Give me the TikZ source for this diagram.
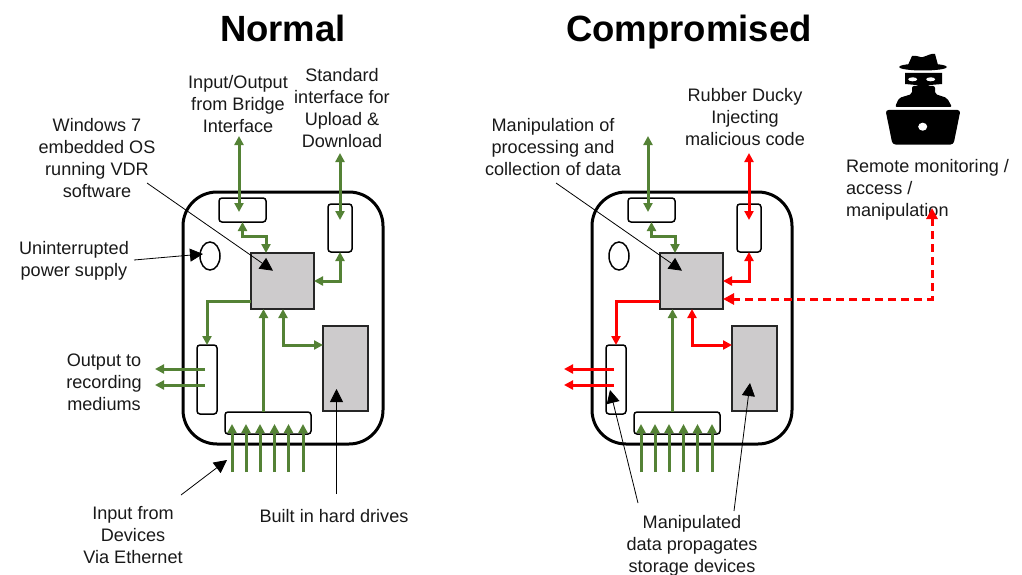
\documentclass[tikz,border=0pt]{standalone}
\usepackage{fontspec}
\setmainfont{Liberation Sans}
\usetikzlibrary{calc,arrows.meta,shapes.geometric}
\definecolor{vgreen}{HTML}{548235}
\definecolor{vred}{HTML}{FF0000}
\definecolor{vgray}{HTML}{CDCBCC}
\tikzset{
  lbl/.style={inner sep=0pt,outer sep=0pt,align=center,text=black!90,font=\fontsize{18.1}{22}\selectfont},
  heading/.style={inner sep=0pt,outer sep=0pt,anchor=base,font=\fontsize{36.5}{40}\selectfont\bfseries},
  part/.style={draw=black,line width=1.5pt,rounded corners=3pt,inner sep=0pt,outer sep=0pt},
  store/.style={draw=black!85,fill=vgray,line width=1.5pt,inner sep=0pt,outer sep=0pt},
  link/.style={draw=#1,line width=3pt,-{Stealth[length=9pt,width=9pt,inset=0pt]}},
  twoway/.style={draw=#1,line width=3pt,{Stealth[length=9pt,width=9pt,inset=0pt]}-{Stealth[length=9pt,width=9pt,inset=0pt]}},
  callout/.style={draw=black,line width=0.8pt,-{Stealth[length=13pt,width=13pt,inset=0pt]}},
  remote/.style={draw=vred,line width=3pt,dash pattern=on 8pt off 5pt,{Stealth[length=11pt,width=11pt,inset=0pt]}-{Stealth[length=11pt,width=11pt,inset=0pt]}}
}
\begin{document}
\begin{tikzpicture}[x=1pt,y=-1pt]
\useasboundingbox (0,0) rectangle (1022,575);
\node[heading] (titlen) at (283,42) {Normal};
\node[heading] (titlec) at (689,42) {Compromised};
\foreach \p/\dx/\col in {n/0/vgreen,c/409/vred}{
  \node[draw=black,line width=3pt,rounded corners=34pt,inner sep=0pt,outer sep=0pt,minimum width=200pt,minimum height=252pt] (shell\p) at (283+\dx,318) {};
  \node[part,minimum width=47pt,minimum height=24pt] (topbox\p) at (242.5+\dx,210) {};
  \node[part,minimum width=24pt,minimum height=48pt] (usbbox\p) at (340+\dx,228) {};
  \node[part,minimum width=20pt,minimum height=69pt] (outbox\p) at (207+\dx,379.5) {};
  \node[part,minimum width=86pt,minimum height=22pt] (inbox\p) at (268+\dx,423) {};
  \node[draw=black,line width=1.5pt,ellipse,inner sep=0pt,outer sep=0pt,minimum width=20pt,minimum height=28pt] (ups\p) at (210+\dx,256) {};
  \node[store,minimum width=63pt,minimum height=56pt] (cpu\p) at (282.5+\dx,281) {};
  \node[store,minimum width=45pt,minimum height=85pt] (hdd\p) at (345.5+\dx,368.5) {};
  \coordinate (bridge\p) at (239+\dx,136);
  \coordinate (upload\p) at (340+\dx,153);
  \coordinate (rec1\p) at (155+\dx,369);
  \coordinate (rec2\p) at (155+\dx,385);
  \draw[twoway=vgreen] (bridge\p) -- ([shift={(-3.5,2)}]topbox\p.center);
  \draw[twoway=vgreen] (topbox\p.south) -- ++(0,14.5) -| ([shift={(-16.5,0)}]cpu\p.north);
  \draw[twoway=\col] (upload\p) -- ([shift={(0,-8)}]usbbox\p.center);
  \draw[twoway=\col] (usbbox\p.south) |- (cpu\p.east);
  \draw[link=\col] ([shift={(0,20)}]cpu\p.west) -| (outbox\p.north);
  \draw[link=vgreen] ([shift={(-4.5,0)}]inbox\p.north) -- ([shift={(-19,0)}]cpu\p.south);
  \draw[twoway=\col] ([shift={(0.5,0)}]cpu\p.south) |- ([shift={(0,-23.5)}]hdd\p.west);
  \draw[link=\col] ([shift={(-2,-10.5)}]outbox\p.center) -- (rec1\p);
  \draw[link=\col] ([shift={(-2,5.5)}]outbox\p.center) -- (rec2\p);
  \foreach \i/\f in {1/-36,2/-22,3/-8,4/6.5,5/20.5,6/35}{
    \coordinate (feed\i\p) at (268+\dx+\f,472);
    \draw[link=vgreen] (feed\i\p) -- ([shift={(\f,-10)}]inbox\p.south);
  }
}
\node[lbl] (bridgelbl) at (238,104) {Input/Output\\from Bridge\\Interface};
\node[lbl] (uploadlbl) at (342,108) {Standard\\interface for\\Upload \&\\Download};
\node[lbl] (oslbl) at (97,158) {Windows 7\\embedded OS\\running VDR\\software};
\node[lbl] (upslbl) at (74,261) {Uninterrupted\\power supply};
\node[lbl] (reclbl) at (104,382) {Output to\\recording\\mediums};
\node[lbl] (inputlbl) at (133,535) {Input from\\Devices\\Via Ethernet};
\node[lbl] (drivelbl) at (334,516) {Built in hard drives};
\node[lbl] (manlbl) at (553,147) {Manipulation of\\processing and\\collection of data};
\node[lbl] (ducklbl) at (745,117) {Rubber Ducky\\Injecting\\malicious code};
\node[lbl,align=left,anchor=west] (remotelbl) at (846,190) {Remote monitoring /\\access /\\manipulation};
\node[lbl] (proplbl) at (692,546) {Manipulated\\data propagates\\storage devices};
\draw[callout] ([shift={(50,25)}]oslbl.center) -- ([shift={(-9.5,-10.3)}]cpun.center);
\draw[callout] ([shift={(60,-1)}]upslbl.center) -- ([shift={(-7,-2)}]upsn.center);
\draw[callout] ([shift={(48,-40)}]inputlbl.center) -- ([shift={(-41,37)}]inboxn.center);
\draw[callout] ([shift={(2.5,-22)}]drivelbl.center) -- ([shift={(-9,20.5)}]hddn.center);
\draw[callout] ([shift={(3,36)}]manlbl.center) -- ([shift={(-9.5,-10.3)}]cpuc.center);
\draw[callout] ([shift={(-54,-43)}]proplbl.center) -- ([shift={(-6,10.5)}]outboxc.center);
\draw[callout] ([shift={(42,-35)}]proplbl.center) -- ([shift={(-4.5,14.5)}]hddc.center);
\coordinate (remoteend) at (932,208);
\draw[remote] (remoteend) |- ([shift={(0,18)}]cpuc.east);
\fill[black] (908,65) -- (912,56) .. controls (918,55) and (920,58) .. (923,57) .. controls (927,56) and (931,53) .. (935,54) -- (938,65) -- cycle;
\fill[black] (923,67) ellipse (24 and 3.5);
\fill[black] (905,73) -- (942,73) -- (942,84) -- (930,85) -- (923,88) -- (916,85) -- (905,84) -- cycle;
\fill[white] (912.7,79.3) ellipse (4.5 and 2);
\fill[white] (930.7,79.3) ellipse (4.5 and 2);
\fill[black,rounded corners=2pt] (895,107) -- (899,98) -- (912,94) -- (912,86) -- (935,86) -- (935,94) -- (947,98) -- (952,107) -- cycle;
\fill[black,rounded corners=3pt] (885.5,110) -- (960.5,110) -- (953.5,144.5) -- (892.5,144.5) -- cycle;
\fill[white] (922.7,126.7) ellipse (4.5 and 4);
\end{tikzpicture}
\end{document}
